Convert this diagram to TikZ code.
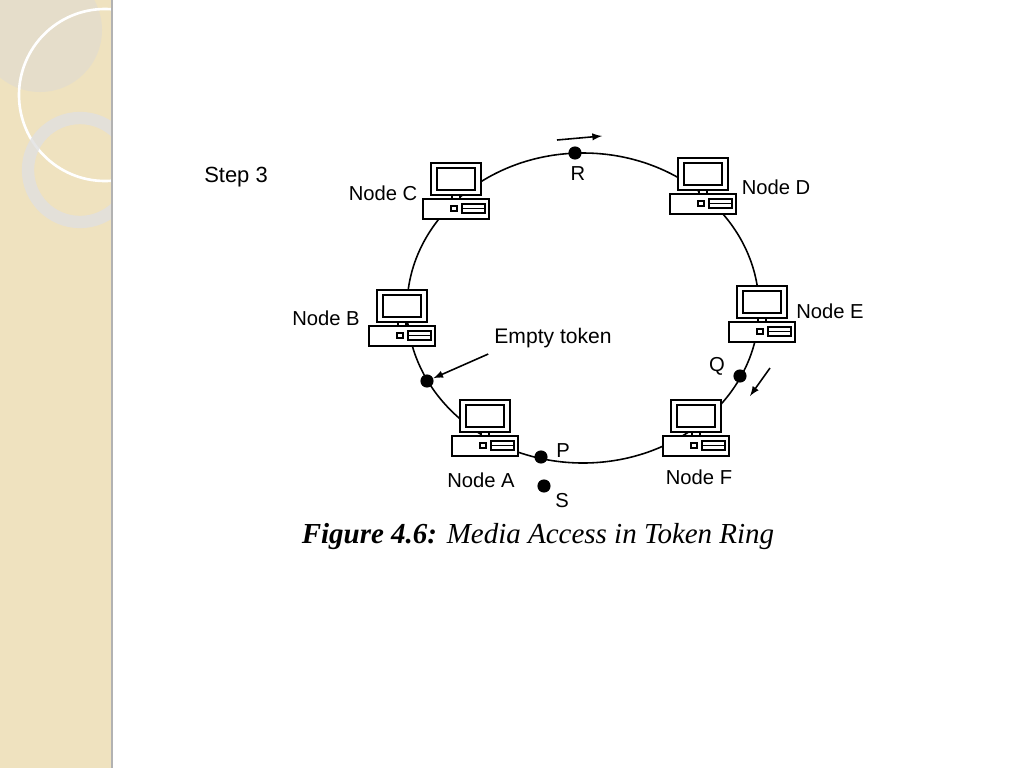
\documentclass[tikz,border=0pt]{standalone}
\usepackage{fontspec}
\setmainfont{Liberation Sans}
\newfontfamily\capfont{Liberation Serif}
\usetikzlibrary{calc}
\definecolor{panel}{HTML}{EFE2BF}
\tikzset{
  lbl/.style={font=\fontsize{11.5}{13}\selectfont},
  tok/.style={circle,fill=black,inner sep=0pt,minimum size=7.5pt},
  pc/.pic={
    \draw[fill=white,line width=0.8pt] (-33,4) rectangle (33,24);
    \draw[line width=0.6pt] (-5,11) rectangle (1,16);
    \draw[line width=0.6pt] (6,9) rectangle (29,18);
    \draw[line width=0.6pt] (6,13.5) -- (29,13.5);
    \draw[fill=white,line width=0.8pt] (-4,0) rectangle (4,4);
    \draw[fill=white,line width=0.8pt] (-25,-32) rectangle (25,0);
    \draw[line width=0.8pt] (-19,-27) rectangle (19,-5);
  }
}
\begin{document}
\begin{tikzpicture}[x=0.02cm,y=-0.02cm]
\useasboundingbox (0,0) rectangle (1024,768);
% side panel
\fill[white] (0,0) rectangle (1024,768);
\begin{scope}
  \clip (0,0) rectangle (112,768);
  \fill[panel] (0,0) rectangle (112,768);
  \fill[black!15,opacity=0.45] (40,30) circle (62);
  \draw[white,line width=1.5pt] (105,95) circle (86);
  \draw[white!88!black,line width=7pt,opacity=0.8] (80,170) circle (52);
\end{scope}
\draw[black!30,line width=1.5pt] (112,0) -- (112,768);
% ring
\draw[line width=0.9pt] (583,308) ellipse (176 and 155);
\pic at (456,195) {pc};
\pic at (703,190) {pc};
\pic at (762,318) {pc};
\pic at (402,322) {pc};
\pic at (485,432) {pc};
\pic at (696,432) {pc};
% labels
\node[lbl,font=\fontsize{12.5}{14}\selectfont] (step) at (236,177) {Step 3};
\node[lbl] (nc) at (383,193) {Node C};
\node[lbl] (nd) at (776,187) {Node D};
\node[lbl] (ne) at (830,311) {Node E};
\node[lbl] (nb) at (326,318) {Node B};
\node[lbl] (na) at (481,480) {Node A};
\node[lbl] (nf) at (699,477) {Node F};
% tokens
\node[tok] (r) at (575,153) {};
\node[tok] (q) at (740,376) {};
\node[tok] (p) at (541,457) {};
\node[tok] (e) at (427,381) {};
\node[tok] (s) at (544,486) {};
\node[lbl] at (578,174) {R};
\node[lbl] at (717,366) {Q};
\node[lbl] at (563,451) {P};
\node[lbl] at (562,501) {S};
\node[lbl,font=\fontsize{12}{14}\selectfont] (et) at (553,338) {Empty token};
\coordinate (r1) at (557,140);
\coordinate (r2) at (602,136);
\coordinate (q1) at (770,368);
\coordinate (q2) at (750,396);
\draw[->,>=latex,line width=0.9pt] (r1) -- (r2);
\draw[->,>=latex,line width=0.9pt] (q1) -- (q2);
\draw[->,>=latex,line width=0.9pt] (et.south west) -- (e);
% caption
\node (cap) at (538,537) {\capfont\fontsize{16.5}{19}\selectfont\textbf{\textit{Figure 4.6:}} \textit{Media Access in Token Ring}};
\end{tikzpicture}
\end{document}
